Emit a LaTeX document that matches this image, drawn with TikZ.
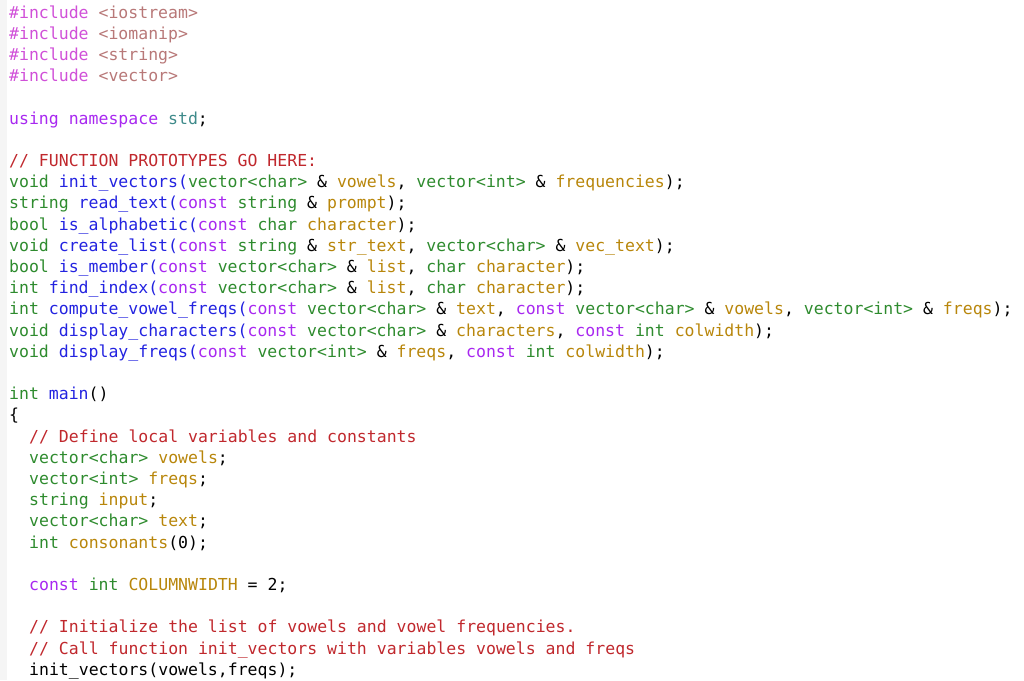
\documentclass[tikz,border=0pt]{standalone}
\usepackage{fontspec}
\setmonofont{DejaVu Sans Mono}
\definecolor{cm}{HTML}{C0282D}
\definecolor{ty}{HTML}{2E8B2E}
\definecolor{fn}{HTML}{2323E0}
\definecolor{kw}{HTML}{A828F0}
\definecolor{pp}{HTML}{D050D8}
\definecolor{hd}{HTML}{B87878}
\definecolor{pa}{HTML}{B8860B}
\definecolor{sd}{HTML}{3E8A8A}
\newcommand\cTy[1]{\textcolor{ty}{#1}}
\newcommand\cFn[1]{\textcolor{fn}{#1}}
\newcommand\cKw[1]{\textcolor{kw}{#1}}
\newcommand\cPa[1]{\textcolor{pa}{#1}}
\newcommand\cCm[1]{\textcolor{cm}{#1}}
\newcommand\VC{\cTy{vector<char>}}
\newcommand\VI{\cTy{vector<int>}}
\begin{document}
\begin{tikzpicture}[x=1pt,y=-1pt,
  ln/.style={anchor=base west,inner sep=0pt,font=\fontsize{16.5}{18}\ttfamily}]
\useasboundingbox (0,0) rectangle (1024,680);
\fill[black!4] (0,0) rectangle (7,680);
\def\cLine#1#2#3{\node[ln] (l#1) at (#2,{18+21.2*#1}) {#3};}
\cLine{0}{9}{\textcolor{pp}{\#include} \textcolor{hd}{<iostream>}}
\cLine{1}{9}{\textcolor{pp}{\#include} \textcolor{hd}{<iomanip>}}
\cLine{2}{9}{\textcolor{pp}{\#include} \textcolor{hd}{<string>}}
\cLine{3}{9}{\textcolor{pp}{\#include} \textcolor{hd}{<vector>}}
\cLine{5}{9}{\cKw{using} \cKw{namespace} \textcolor{sd}{std};}
\cLine{7}{9}{\cCm{// FUNCTION PROTOTYPES GO HERE:}}
\cLine{8}{9}{\cTy{void} \cFn{init\_vectors(}\VC{} \& \cPa{vowels}, \VI{} \& \cPa{frequencies});}
\cLine{9}{9}{\cTy{string} \cFn{read\_text(}\cKw{const} \cTy{string} \& \cPa{prompt});}
\cLine{10}{9}{\cTy{bool} \cFn{is\_alphabetic(}\cKw{const} \cTy{char} \cPa{character});}
\cLine{11}{9}{\cTy{void} \cFn{create\_list(}\cKw{const} \cTy{string} \& \cPa{str\_text}, \VC{} \& \cPa{vec\_text});}
\cLine{12}{9}{\cTy{bool} \cFn{is\_member(}\cKw{const} \VC{} \& \cPa{list}, \cTy{char} \cPa{character});}
\cLine{13}{9}{\cTy{int} \cFn{find\_index(}\cKw{const} \VC{} \& \cPa{list}, \cTy{char} \cPa{character});}
\cLine{14}{9}{\cTy{int} \cFn{compute\_vowel\_freqs(}\cKw{const} \VC{} \& \cPa{text}, \cKw{const} \VC{} \& \cPa{vowels}, \VI{} \& \cPa{freqs});}
\cLine{15}{9}{\cTy{void} \cFn{display\_characters(}\cKw{const} \VC{} \& \cPa{characters}, \cKw{const} \cTy{int} \cPa{colwidth});}
\cLine{16}{9}{\cTy{void} \cFn{display\_freqs(}\cKw{const} \VI{} \& \cPa{freqs}, \cKw{const} \cTy{int} \cPa{colwidth});}
\cLine{18}{9}{\cTy{int} \cFn{main}()}
\cLine{19}{9}{\{}
\cLine{20}{29}{\cCm{// Define local variables and constants}}
\cLine{21}{29}{\VC{} \cPa{vowels};}
\cLine{22}{29}{\VI{} \cPa{freqs};}
\cLine{23}{29}{\cTy{string} \cPa{input};}
\cLine{24}{29}{\VC{} \cPa{text};}
\cLine{25}{29}{\cTy{int} \cPa{consonants}(0);}
\cLine{27}{29}{\cKw{const} \cTy{int} \cPa{COLUMNWIDTH} = 2;}
\cLine{29}{29}{\cCm{// Initialize the list of vowels and vowel frequencies.}}
\cLine{30}{29}{\cCm{// Call function init\_vectors with variables vowels and freqs}}
\cLine{31}{29}{init\_vectors(vowels,freqs);}
\end{tikzpicture}
\end{document}
